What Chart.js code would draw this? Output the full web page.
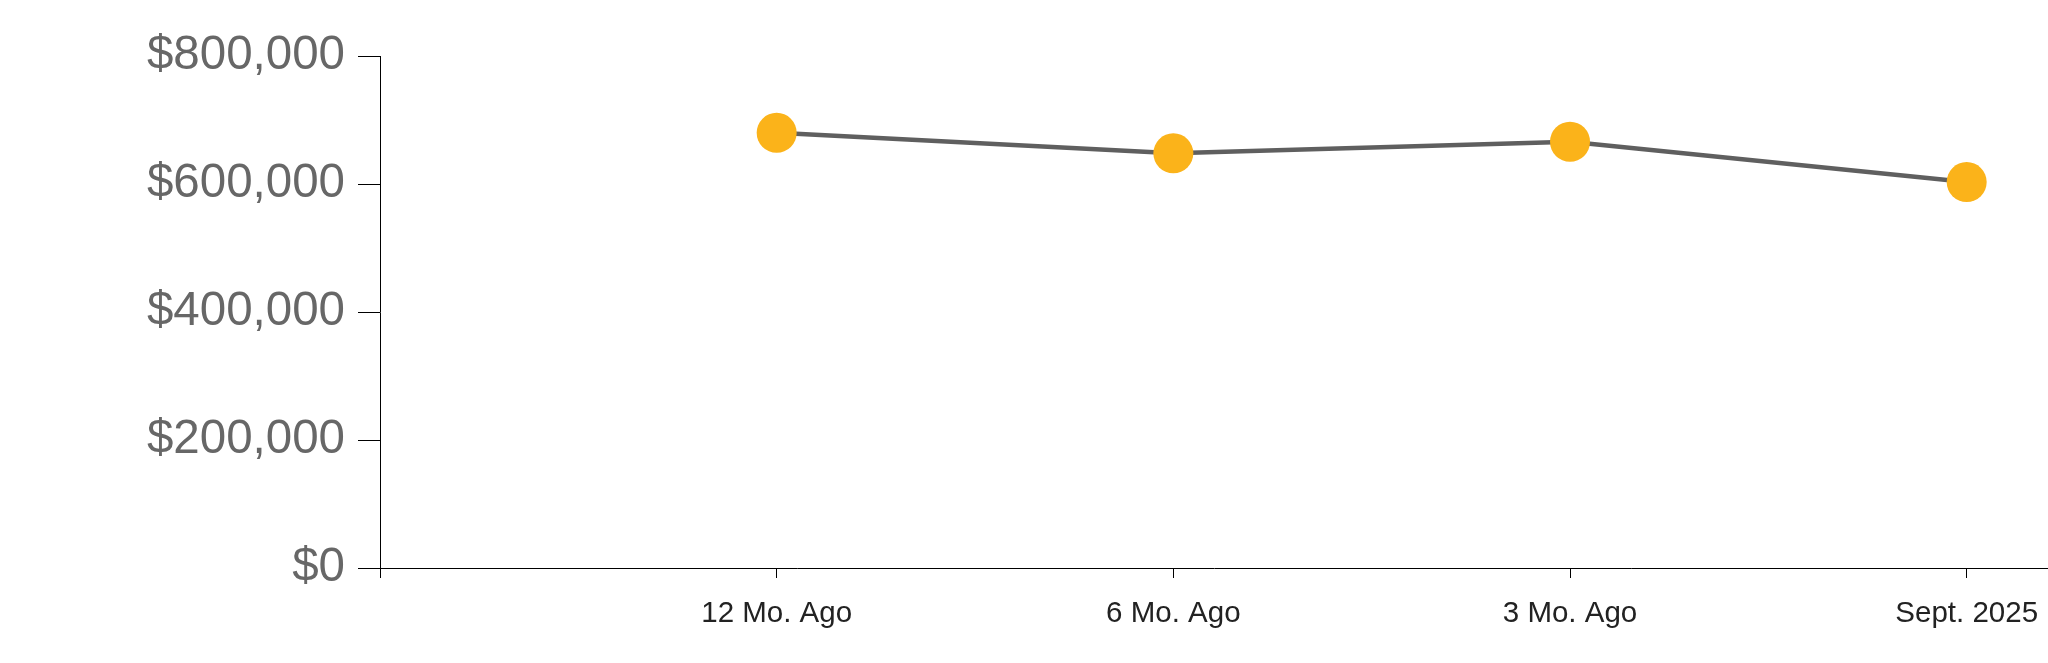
<!DOCTYPE html>
<html>
<head>
<meta charset="utf-8">
<script src="https://cdn.jsdelivr.net/npm/chart.js@4"></script>
<style>
  html, body { margin: 0; padding: 0; background: #fff; overflow: hidden; }
  #chart { display: block; }
</style>
</head>
<body>
<canvas id="chart" width="2048" height="663"></canvas>
<script>
const periods = ["12 Mo. Ago", "6 Mo. Ago", "3 Mo. Ago", "Sept. 2025"];
const medianPrice = [680000, 648000, 666000, 603000];
const yTicks = [0, 200000, 400000, 600000, 800000];

const LINE_COLOR = "#5f5f5f";
const POINT_COLOR = "#fbb31a";

const points = medianPrice.map((v, i) => ({ x: i + 1, y: v }));

new Chart(document.getElementById("chart"), {
  type: "line",
  data: {
    datasets: [{
      data: points,
      borderColor: LINE_COLOR,
      borderWidth: 4.5,
      tension: 0,
      pointRadius: 20,
      pointHoverRadius: 20,
      pointBackgroundColor: POINT_COLOR,
      pointBorderWidth: 0,
      clip: false
    }]
  },
  options: {
    responsive: false,
    animation: false,
    // no auto padding, so the plot starts right at the axes
    layout: { autoPadding: false, padding: { top: 56, right: 0, bottom: 0, left: 0 } },
    plugins: { legend: { display: false }, tooltip: { enabled: false } },
    scales: {
      x: {
        type: "linear",
        min: 0,
        max: 4.205,
        afterBuildTicks(axis) {
          axis.ticks = [0, 1, 2, 3, 4].map(v => ({ value: v }));
        },
        afterFit(axis) {
          axis.height = 95;
          axis.paddingLeft = 0;
          axis.paddingRight = 0;
        },
        grid: { drawOnChartArea: false, color: "#000", tickLength: 10, lineWidth: 1 },
        border: { color: "#000", width: 1 },
        ticks: {
          padding: 18,
          color: "#222",
          font: { family: "'Liberation Sans', Arial, sans-serif", size: 29.5 },
          maxRotation: 0,
          autoSkip: false,
          callback: v => (v >= 1 && v <= periods.length ? periods[v - 1] : "")
        }
      },
      y: {
        min: 0,
        max: 800000,
        afterBuildTicks(axis) {
          axis.ticks = yTicks.map(v => ({ value: v }));
        },
        afterFit(axis) { axis.width = 380; },
        grid: { drawOnChartArea: false, color: "#000", tickLength: 22, lineWidth: 1 },
        border: { color: "#000", width: 1 },
        ticks: {
          padding: 13,
          color: "#676767",
          font: { family: "'Liberation Sans', Arial, sans-serif", size: 47.5 },
          callback: v => "$" + v.toLocaleString("en-US")
        }
      }
    }
  }
});
</script>
</body>
</html>
